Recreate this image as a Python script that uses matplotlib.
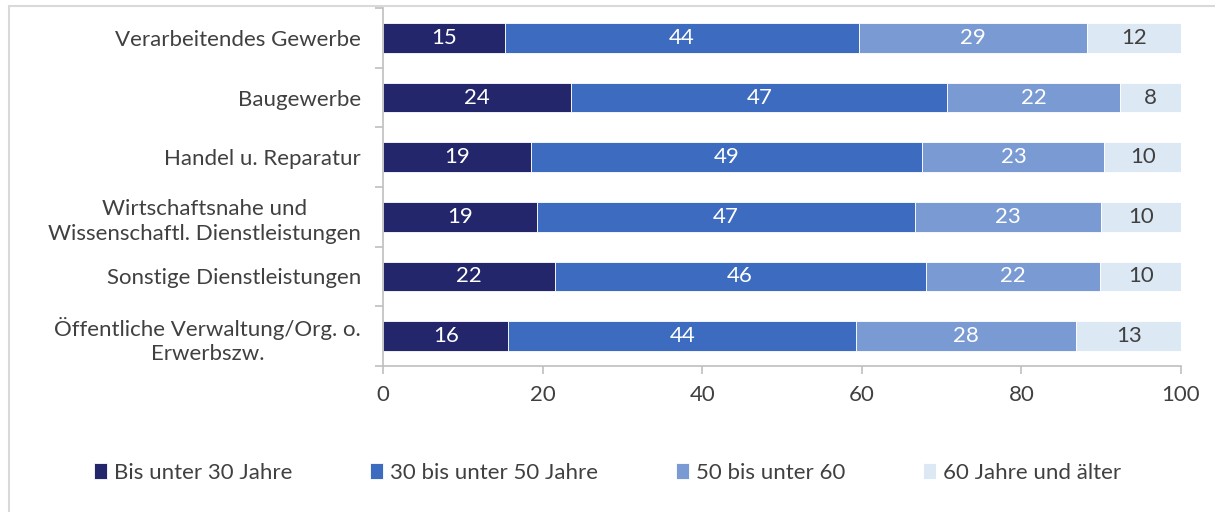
import matplotlib
matplotlib.use("Agg")
import matplotlib.pyplot as plt
from matplotlib.patches import Rectangle

categories = [
    "Verarbeitendes Gewerbe",
    "Baugewerbe",
    "Handel u. Reparatur",
    "Wirtschaftsnahe und\nWissenschaftl. Dienstleistungen",
    "Sonstige Dienstleistungen",
    "Öffentliche Verwaltung/Org. o.\nErwerbszw.",
]
series_names = ["Bis unter 30 Jahre", "30 bis unter 50 Jahre", "50 bis unter 60", "60 Jahre und älter"]
unter30 = [15.3, 23.6, 18.6, 19.3, 21.5, 15.7]
von30bis50 = [44.3, 47.1, 49.0, 47.4, 46.5, 43.6]
von50bis60 = [28.6, 21.7, 22.8, 23.3, 21.9, 27.6]
ab60 = [11.8, 7.6, 9.6, 10.0, 10.1, 13.1]
xticks = [0, 20, 40, 60, 80, 100]

colors = ["#23266A", "#3D6BBF", "#7A9AD4", "#DDE8F5"]
label_colors = ["white", "white", "white", "#404040"]
text_color = "#404040"
font = "Lato"
fs = 16

fig = plt.figure(figsize=(12.15, 5.12), dpi=100)
ax = fig.add_axes([383 / 1215, 1 - 366 / 512, (1181 - 383) / 1215, (366 - 8) / 512])

series = [unter30, von30bis50, von50bis60, ab60]
ypos = list(range(len(categories)))
left = [0.0] * len(categories)
for vals, col, lc, name in zip(series, colors, label_colors, series_names):
    bars = ax.barh(ypos, vals, left=left, height=0.5, color=col, edgecolor="white",
                   linewidth=0.6, label=name)
    for b, v in zip(bars, vals):
        ax.text(b.get_x() + b.get_width() / 2, b.get_y() + b.get_height() / 2,
                f"{v:.0f}", ha="center", va="center", color=lc, fontsize=fs, family=font)
    left = [l + v for l, v in zip(left, vals)]

ax.set_xlim(0, 100)
ax.set_ylim(len(categories) - 0.5, -0.5)
ax.set_xticks(xticks)
ax.set_xticklabels([str(t) for t in xticks], fontsize=fs, color=text_color, family=font)
ax.set_yticks(ypos)
ax.set_yticklabels(categories, fontsize=fs, color=text_color, family=font, multialignment="center",
                   linespacing=1.3)
ax.tick_params(axis="y", length=0, pad=16)
ax.set_yticks([i + 0.5 for i in range(-1, len(categories))], minor=True)
ax.tick_params(axis="y", which="minor", length=6, color="#BFBFBF", width=1.2)
ax.tick_params(axis="x", length=6, color="#BFBFBF", width=1.2, pad=8)
for s in ["top", "right"]:
    ax.spines[s].set_visible(False)
for s in ["left", "bottom"]:
    ax.spines[s].set_color("#BFBFBF")
    ax.spines[s].set_linewidth(1.2)

leg = fig.legend(loc="center", bbox_to_anchor=(0.5, 1 - 473 / 512), ncol=4, frameon=False,
                 prop={"family": font, "size": fs}, handlelength=0.6, handleheight=0.7,
                 handletextpad=0.3, columnspacing=3.5)
for t in leg.get_texts():
    t.set_color(text_color)

fig.patches.append(Rectangle((9 / 1215, -0.1), 1.2, 1 - 6 / 512 + 0.1, transform=fig.transFigure,
                             fill=False, edgecolor="#D9D9D9", linewidth=1.5))

fig.savefig("out.png", dpi=100)
